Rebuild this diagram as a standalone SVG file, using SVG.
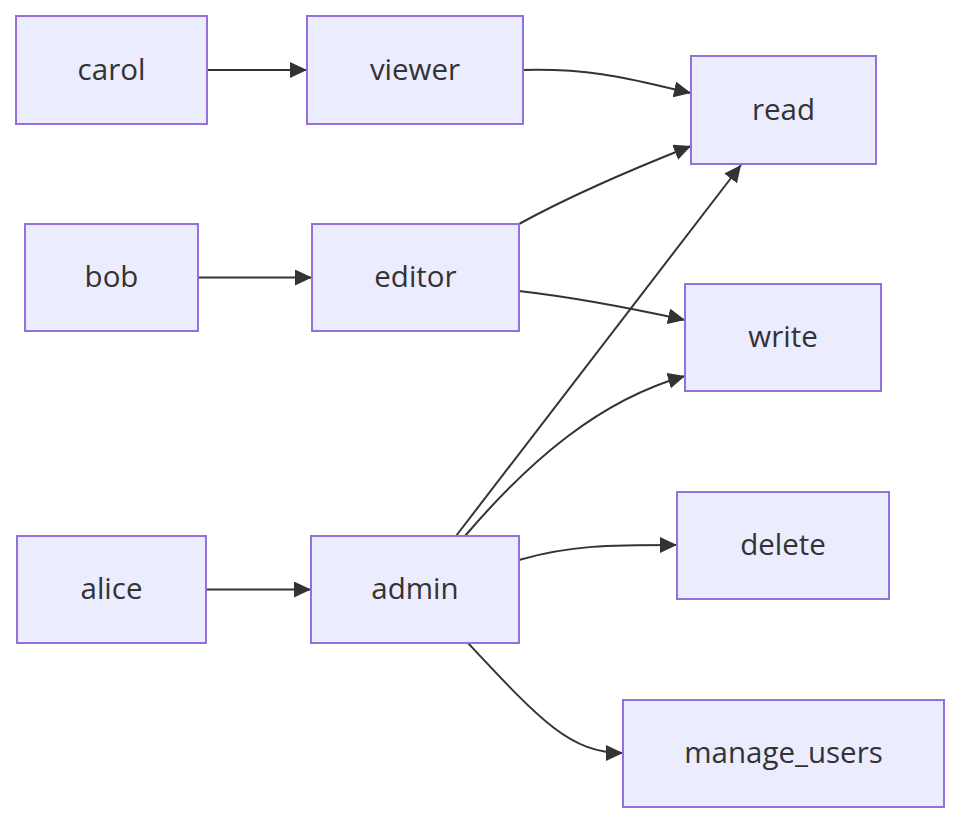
<svg xmlns="http://www.w3.org/2000/svg" width="960" height="824" viewBox="0 0 960 824">
<defs>
<marker id="arrow" markerUnits="userSpaceOnUse" viewBox="0 0 10 10" refX="10" refY="5" markerWidth="17" markerHeight="16" preserveAspectRatio="none" orient="auto">
<path d="M0,0 L10,5 L0,10 z" fill="#333333"/>
</marker>
<style>
.node rect{fill:#ECECFF;stroke:#9370DB;stroke-width:2}
.node text{font-family:"Trebuchet MS","Open Sans","Liberation Sans",sans-serif;font-size:29.5px;fill:#333333;text-anchor:middle;dominant-baseline:central}
.edges path{fill:none;stroke:#333333;stroke-width:2;marker-end:url(#arrow)}
</style>
</defs>
<rect width="960" height="824" fill="#ffffff"/>
<g class="edges">
<path d="M207,70 L307,70"/>
<path d="M198,277.5 L312,277.5"/>
<path d="M206,589.5 L311,589.5"/>
<path d="M523,70 C600,68 640,82 691,93"/>
<path d="M519,224 C570,196 620,174 691,146"/>
<path d="M519,291 C580,298 630,308 685,320"/>
<path d="M456,536 L741,165"/>
<path d="M465,536 C530,460 600,400 685,376"/>
<path d="M519,560 C570,545 610,545 677,545"/>
<path d="M468,643 C540,720 570,753 623,753"/>
</g>
<g id="carol" class="node"><rect x="16" y="16" width="191" height="108"/><text x="111.5" y="68">carol</text></g>
<g id="viewer" class="node"><rect x="307" y="16" width="216" height="108"/><text x="415" y="68">viewer</text></g>
<g id="read" class="node"><rect x="691" y="56" width="185" height="108"/><text x="783.5" y="108">read</text></g>
<g id="bob" class="node"><rect x="25" y="224" width="173" height="107"/><text x="111.5" y="275.5">bob</text></g>
<g id="editor" class="node"><rect x="312" y="224" width="207" height="107"/><text x="415.5" y="275.5">editor</text></g>
<g id="write" class="node"><rect x="685" y="284" width="196" height="107"/><text x="783" y="335.5">write</text></g>
<g id="alice" class="node"><rect x="17" y="536" width="189" height="107"/><text x="111.5" y="587.5">alice</text></g>
<g id="admin" class="node"><rect x="311" y="536" width="208" height="107"/><text x="415" y="587.5">admin</text></g>
<g id="delete" class="node"><rect x="677" y="492" width="212" height="107"/><text x="783" y="543.5">delete</text></g>
<g id="manage_users" class="node"><rect x="623" y="700" width="321" height="107"/><text x="783.5" y="751.5">manage_users</text></g>
</svg>
